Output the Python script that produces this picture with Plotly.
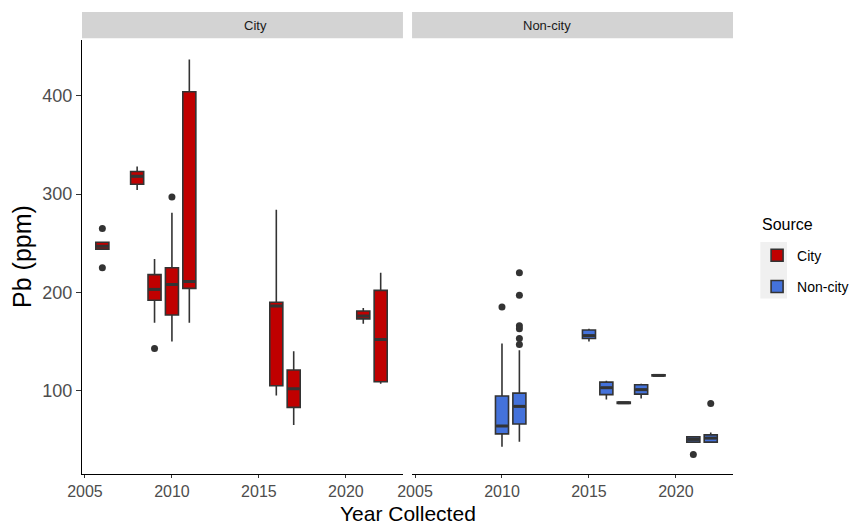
import plotly.graph_objects as go
from plotly.subplots import make_subplots

# ---- data ----
city_years = [2006, 2008, 2009, 2010, 2011, 2016, 2017, 2021, 2022]
city_q1 = [244, 310, 192, 177, 204, 105, 83, 173, 109]
city_median = [247, 318, 203, 208, 211, 186, 102, 176, 152]
city_q3 = [251, 323, 218, 225, 404, 190, 121, 181, 202]
city_low = [244, 304, 169, 150, 169, 95, 65, 168, 107]
city_high = [251, 328, 234, 281, 437, 284, 140, 184, 220]
city_out_x = [2006, 2006, 2009, 2010]
city_out_y = [265, 225, 143, 297]

non_years = [2010, 2011, 2015, 2016, 2017, 2018, 2019, 2021, 2022]
non_q1 = [56, 66, 153, 96, 87, 96.5, 115, 47.6, 47.6]
non_median = [64, 84, 156, 103, 87.7, 101, 115.5, 50.4, 51.7]
non_q3 = [94.5, 97.5, 161.7, 108.7, 88.5, 106, 116, 53, 55]
non_low = [43, 48, 150, 91, 87, 92, 115, 47.6, 47.6]
non_high = [148, 141, 163, 110, 88.5, 107, 116, 53, 57.5]
non_out_x = [2010, 2011, 2011, 2011, 2011, 2011, 2011, 2021, 2022]
non_out_y = [185, 220, 197, 166, 163, 153, 147, 35, 87]

panel_names = ["City", "Non-city"]
x_ticks = [2005, 2010, 2015, 2020]
y_ticks = [100, 200, 300, 400]

RED = "#C00000"
BLUE = "#4472DB"
EDGE = "#333333"
BOX_W = 0.75

fig = make_subplots(rows=1, cols=2, shared_yaxes=True, horizontal_spacing=0.014)


def median_segments(xs, meds):
    sx, sy = [], []
    for x, m in zip(xs, meds):
        sx += [x - BOX_W / 2 + 0.04, x + BOX_W / 2 - 0.04, None]
        sy += [m, m, None]
    return sx, sy


for col, (name, color, xs, q1, med, q3, lo, hi, ox, oy) in enumerate([
    ("City", RED, city_years, city_q1, city_median, city_q3, city_low, city_high,
     city_out_x, city_out_y),
    ("Non-city", BLUE, non_years, non_q1, non_median, non_q3, non_low, non_high,
     non_out_x, non_out_y),
], start=1):
    fig.add_trace(go.Box(
        x=xs, q1=q1, median=med, q3=q3, lowerfence=lo, upperfence=hi, name=name,
        fillcolor=color, line=dict(color=EDGE, width=1.6), width=BOX_W,
        whiskerwidth=0, boxpoints=False, legendgroup=name,
    ), row=1, col=col)
    mx, my = median_segments(xs, med)
    fig.add_trace(go.Scatter(
        x=mx, y=my, mode="lines", line=dict(color=EDGE, width=3),
        showlegend=False, hoverinfo="skip",
    ), row=1, col=col)
    fig.add_trace(go.Scatter(
        x=ox, y=oy, mode="markers",
        marker=dict(color=EDGE, size=7), showlegend=False, hoverinfo="skip",
    ), row=1, col=col)

panel_top = 0.94
fig.update_xaxes(
    range=[2004.83, 2023.28], tickvals=x_ticks, ticks="outside", ticklen=3,
    tickcolor=EDGE, tickfont=dict(size=16, color="#4D4D4D"), automargin=False,
    showline=True, linecolor="black", linewidth=1.2, showgrid=False, zeroline=False,
)
fig.update_layout(
    xaxis=dict(domain=[0, 0.493]),
    xaxis2=dict(domain=[0.507, 1]),
)
fig.update_yaxes(range=[15.2, 457], tickvals=y_ticks, showgrid=False, zeroline=False,
                 domain=[0, panel_top], automargin=False)
fig.update_yaxes(ticks="outside", ticklen=5, tickcolor=EDGE,
                 tickfont=dict(size=18, color="#4D4D4D"),
                 showline=True, linecolor="black", linewidth=1.2,
                 row=1, col=1)
fig.update_yaxes(showline=False, ticks="", showticklabels=False, row=1, col=2)

# facet strips
for dom, name in zip([(0, 0.493), (0.507, 1)], panel_names):
    fig.add_shape(type="rect", xref="paper", yref="paper", x0=dom[0], x1=dom[1],
                  y0=panel_top + 0.003, y1=1.0, fillcolor="#D3D3D3", line=dict(width=0),
                  layer="below")
    fig.add_annotation(xref="paper", yref="paper", x=(dom[0] + dom[1]) / 2,
                       y=(panel_top + 1.0) / 2 + 0.0015, text=name, showarrow=False,
                       font=dict(size=13, color="#1A1A1A"), yanchor="middle")

# legend key background
fig.add_shape(type="rect", xref="paper", yref="paper", x0=1.042, x1=1.083,
              y0=0.38, y1=0.502, fillcolor="#F0F0F0", line=dict(width=0), layer="below")

fig.add_annotation(xref="paper", yref="paper", x=0.5, y=-52 / 462, yanchor="bottom",
                   borderpad=0, text="Year Collected", showarrow=False,
                   font=dict(size=21, color="black"))
fig.add_annotation(xref="paper", yref="paper", x=-0.092, y=0.47, xanchor="center",
                   yanchor="middle", textangle=-90,
                   text="Pb (ppm)", showarrow=False,
                   font=dict(size=25, color="black"))
fig.add_annotation(xref="paper", yref="paper", x=1.041, y=0.539, xanchor="left",
                   yanchor="middle", text="Source", showarrow=False,
                   font=dict(size=16, color="black"))

fig.update_layout(
    width=853, height=526,
    margin=dict(l=82, r=120, t=12, b=52, autoexpand=False),
    plot_bgcolor="white", paper_bgcolor="white",
    font=dict(family="Liberation Sans, Arial, sans-serif"),
    legend=dict(x=1.037, y=0.439, xanchor="left", yanchor="middle",
                font=dict(size=14, color="black"), bgcolor="rgba(0,0,0,0)"),
    showlegend=True,
)

fig.write_html("out.html", config={"displayModeBar": False},
               post_script="document.body.style.margin='0';document.body.style.overflow='hidden';")
